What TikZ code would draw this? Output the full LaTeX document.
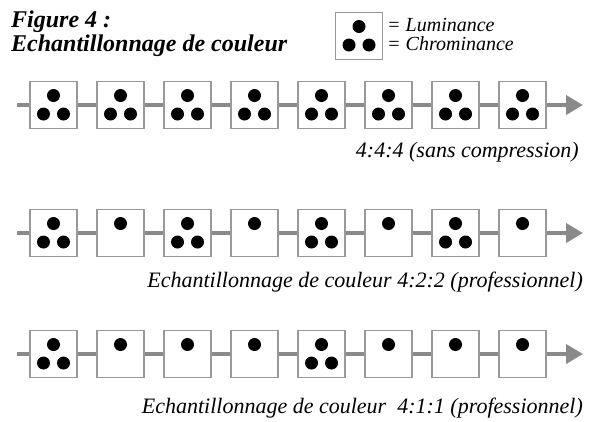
\documentclass[tikz,border=0pt]{standalone}
\usepackage{fontspec}
\setmainfont{Liberation Serif}
\usetikzlibrary{arrows.meta}
\definecolor{linegray}{HTML}{8A8A8A}
\definecolor{boxgray}{HTML}{999999}
\newcommand\dotstriad[1]{\fill (#1) ++(0,-9.5) circle[radius=6.5];
  \fill (#1) ++(-10,9) circle[radius=6.5];
  \fill (#1) ++(10,9) circle[radius=6.5];}
\newcommand\dotsingle[1]{\fill (#1) ++(0,-9.5) circle[radius=6.5];}
\begin{document}
\begin{tikzpicture}[x=1pt,y=-1pt,
  sample/.style={draw=boxgray,line width=1.4pt,fill=white,minimum width=47pt,minimum height=47pt,inner sep=0pt},
  chain/.style={draw=linegray,line width=4pt},
  lastlink/.style={chain,-{Triangle[length=17pt,width=19pt]}},
  caption/.style={font=\fontsize{22}{24}\selectfont\itshape,anchor=base east,inner sep=0pt},
  title/.style={font=\fontsize{24}{26}\selectfont\bfseries\itshape,anchor=base west,inner sep=0pt},
  legend/.style={font=\fontsize{20}{22}\selectfont\itshape,anchor=base west,inner sep=0pt}]
\useasboundingbox (0,0) rectangle (594,421);
% title
\node[title] (t1) at (11,27) {Figure 4 :};
\node[title] (t2) at (11,51) {Echantillonnage de couleur};
% legend
\node[sample] (leg) at (359,36) {};
\dotstriad{leg}
\node[legend] (l1) at (387,31) {= Luminance};
\node[legend] (l2) at (387,50.5) {= Chrominance};
% rows
\foreach \r/\y in {1/105,2/233,3/354}{
  \coordinate (s\r) at (17,\y);
  \coordinate (e\r) at (583,\y);
  \foreach \i in {1,...,8}{
    \node[sample] (b\r-\i) at ({53.5+67*(\i-1)},\y) {};
  }
  \draw[chain] (s\r) -- (b\r-1);
  \foreach \i [evaluate=\i as \j using int(\i+1)] in {1,...,7}{
    \draw[chain] (b\r-\i) -- (b\r-\j);
  }
  \draw[lastlink] (b\r-8) -- (e\r);
}
% dots row 1
\foreach \i in {1,...,8}{\dotstriad{b1-\i}}
% row 2
\foreach \i in {1,3,5,7}{\dotstriad{b2-\i}}
\foreach \i in {2,4,6,8}{\dotsingle{b2-\i}}
% row 3
\foreach \i in {1,5}{\dotstriad{b3-\i}}
\foreach \i in {2,3,4,6,7,8}{\dotsingle{b3-\i}}
% captions
\node[caption] (c1) at (579,157) {4:4:4 (sans compression)};
\node[caption] (c2) at (583,287) {Echantillonnage de couleur 4:2:2 (professionnel)};
\node[caption] (c3) at (583,413) {Echantillonnage de couleur\ \ 4:1:1 (professionnel)};
\end{tikzpicture}
\end{document}
